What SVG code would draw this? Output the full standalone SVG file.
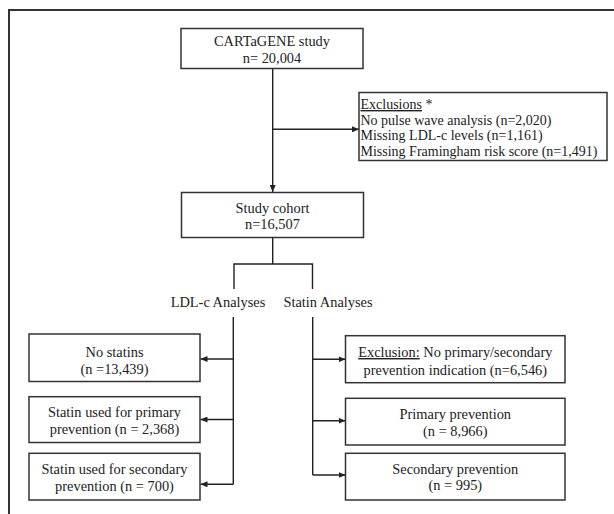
<svg xmlns="http://www.w3.org/2000/svg" width="614" height="514" viewBox="0 0 614 514">
<style>
  .frame { fill: none; stroke: #333; stroke-width: 2; }
  .box { fill: #fff; stroke: #333; stroke-width: 1.5; }
  .t { font-family: "Liberation Serif", "Times New Roman", serif; font-size: 14.4px; fill: #222; }
  .s { font-size: 14px; }
  .c { text-anchor: middle; }
  .ln { fill: none; stroke: #222; stroke-width: 1.4; }
  .u { text-decoration: underline; }
</style>
<defs>
  <marker id="ah" markerWidth="7" markerHeight="6" refX="7" refY="3" orient="auto" markerUnits="userSpaceOnUse">
    <path d="M0,0 L7,3 L0,6 Z" fill="#222"/>
  </marker>
</defs>
<rect width="614" height="514" fill="#fff"/>
<path class="frame" d="M9,520 L9,10 L620,10"/>

<g id="connectors">
  <line class="ln" x1="272.7" y1="68.5" x2="272.7" y2="192" marker-end="url(#ah)"/>
  <line class="ln" x1="272.7" y1="129.3" x2="359" y2="129.3" marker-end="url(#ah)"/>
  <line class="ln" x1="272.7" y1="237.5" x2="272.7" y2="264"/>
  <path class="ln" d="M234,289 L234,264 L312.5,264 L312.5,289"/>
  <line class="ln" x1="233.3" y1="317" x2="233.3" y2="484.3"/>
  <line class="ln" x1="233.3" y1="359" x2="200.5" y2="359" marker-end="url(#ah)"/>
  <line class="ln" x1="233.3" y1="419.5" x2="200.5" y2="419.5" marker-end="url(#ah)"/>
  <line class="ln" x1="233.3" y1="484.3" x2="200.5" y2="484.3" marker-end="url(#ah)"/>
  <line class="ln" x1="312.7" y1="317" x2="312.7" y2="475"/>
  <line class="ln" x1="312.7" y1="359.3" x2="345.5" y2="359.3" marker-end="url(#ah)"/>
  <line class="ln" x1="312.7" y1="420.7" x2="345.5" y2="420.7" marker-end="url(#ah)"/>
  <line class="ln" x1="312.7" y1="475" x2="345.5" y2="475" marker-end="url(#ah)"/>
</g>

<g id="cartagene">
  <rect class="box" x="181" y="28.5" width="182" height="40"/>
  <text class="t c" x="272" y="46">CARTaGENE study</text>
  <text class="t c" x="272" y="62.5">n= 20,004</text>
</g>

<g id="exclusions">
  <rect class="box" x="359" y="92.5" width="248" height="68"/>
  <text class="t s" x="360.5" y="109"><tspan class="u">Exclusions</tspan> *</text>
  <text class="t s" x="360.5" y="124.6">No pulse wave analysis (n=2,020)</text>
  <text class="t s" x="360.5" y="140.2">Missing LDL-c levels (n=1,161)</text>
  <text class="t s" x="360.5" y="155.8">Missing Framingham risk score (n=1,491)</text>
</g>

<g id="cohort">
  <rect class="box" x="181.5" y="192.5" width="182" height="45"/>
  <text class="t c" x="272.5" y="212.5">Study cohort</text>
  <text class="t c" x="272.5" y="228.5">n=16,507</text>
</g>

<g id="ldl-label">
  <text class="t c" x="218" y="307.3">LDL-c Analyses</text>
</g>
<g id="statin-label">
  <text class="t c" x="328" y="307.3">Statin Analyses</text>
</g>

<g id="no-statins">
  <rect class="box" x="29" y="334" width="171" height="47.5"/>
  <text class="t c" x="114.5" y="356.5">No statins</text>
  <text class="t c" x="114.5" y="373.5">(n =13,439)</text>
</g>
<g id="statin-primary">
  <rect class="box" x="29" y="396.7" width="171" height="45.8"/>
  <text class="t c" x="114.5" y="417">Statin used for primary</text>
  <text class="t c" x="114.5" y="433.5">prevention (n = 2,368)</text>
</g>
<g id="statin-secondary">
  <rect class="box" x="29" y="453.3" width="171" height="46.7"/>
  <text class="t c" x="114.5" y="474">Statin used for secondary</text>
  <text class="t c" x="114.5" y="490.5">prevention (n = 700)</text>
</g>

<g id="exclusion-indication">
  <rect class="box" x="345.5" y="335.7" width="219.5" height="47"/>
  <text class="t c" x="455.3" y="357"><tspan class="u">Exclusion:</tspan> No primary/secondary</text>
  <text class="t c" x="455.3" y="374.5">prevention indication (n=6,546)</text>
</g>
<g id="primary-prevention">
  <rect class="box" x="345.5" y="398.3" width="219.5" height="46.7"/>
  <text class="t c" x="455.3" y="419.3">Primary prevention</text>
  <text class="t c" x="455.3" y="435.5">(n = 8,966)</text>
</g>
<g id="secondary-prevention">
  <rect class="box" x="345.5" y="453.3" width="219.5" height="46.7"/>
  <text class="t c" x="455.3" y="473.5">Secondary prevention</text>
  <text class="t c" x="455.3" y="490">(n = 995)</text>
</g>
</svg>
